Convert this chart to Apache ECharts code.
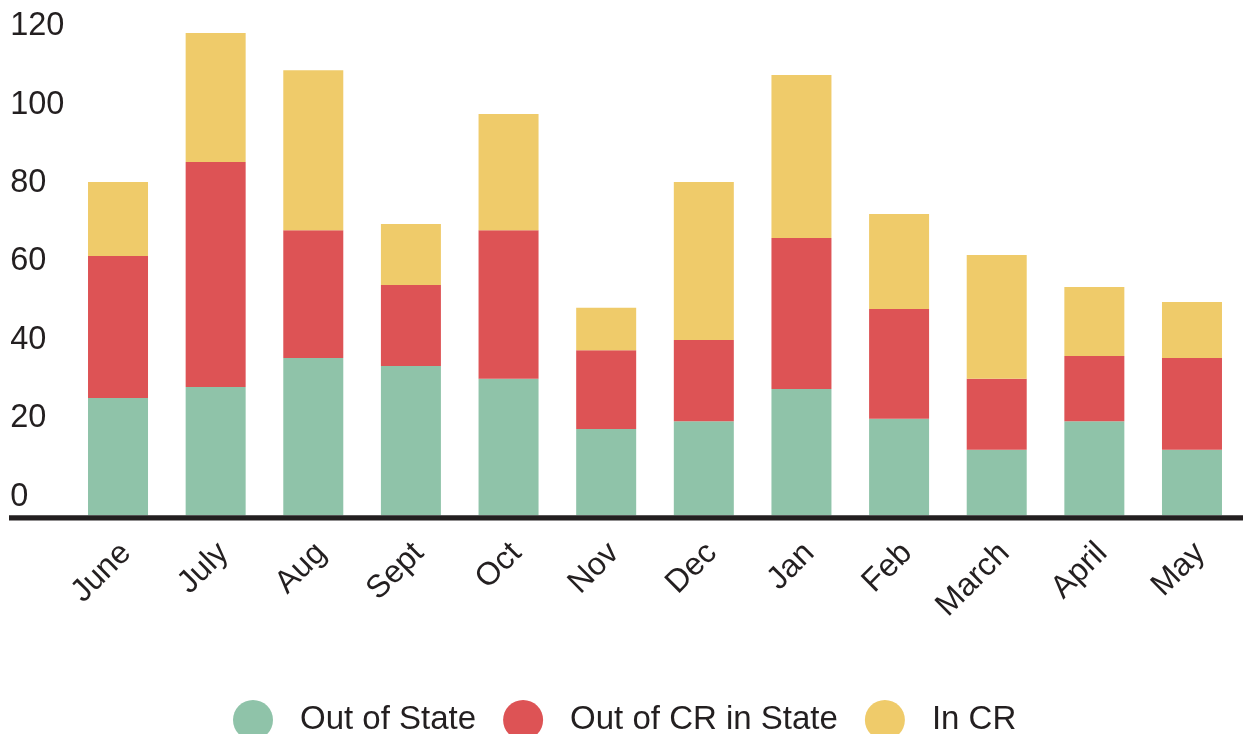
<!DOCTYPE html>
<html>
<head>
<meta charset="utf-8">
<script src="https://cdn.jsdelivr.net/npm/echarts@6/dist/echarts.min.js"></script>
<style>
  html, body { margin: 0; padding: 0; background: #ffffff; }
  #chart { width: 1243px; height: 734px; }
</style>
</head>
<body>
<div id="chart"></div>
<script>
const categories = ['June', 'July', 'Aug', 'Sept', 'Oct', 'Nov', 'Dec', 'Jan', 'Feb', 'March', 'April', 'May'];
const outOfState     = [29.9, 32.7, 40.1, 38.1, 34.8, 22.0, 24.0, 32.2, 24.6, 16.7, 24.0, 16.7];
const outOfCRInState = [36.2, 57.4, 32.6, 20.6, 37.9, 20.1, 20.7, 38.5, 28.0, 18.1, 16.6, 23.4];
const inCR           = [18.9, 32.9, 40.8, 15.6, 29.6, 10.8, 40.3, 41.6, 24.2, 31.6, 17.6, 14.3];
const seriesNames = ['Out of State', 'Out of CR in State', 'In CR'];
const yTicks = [0, 20, 40, 60, 80, 100, 120];

const FONT = "'Liberation Sans', Arial, Helvetica, sans-serif";
const TEXT = '#231f20';
const colors = ['#8fc3a9', '#dd5355', '#efcb6a'];

const chart = echarts.init(document.getElementById('chart'), null, { renderer: 'canvas' });

const option = {
  backgroundColor: '#ffffff',
  animation: false,
  color: colors,
  grid: { left: 69.2, right: 2.2, top: 25.1, bottom: 218.7, containLabel: false },
  legend: {
    data: seriesNames,
    left: 228,
    top: 695,
    icon: 'circle',
    itemWidth: 40,
    itemHeight: 40,
    itemGap: 27,
    textStyle: { fontFamily: FONT, fontSize: 33, color: TEXT, padding: [0, 0, 0, 22] }
  },
  xAxis: {
    type: 'category',
    data: categories,
    axisLine: { show: false },
    axisTick: { show: false },
    axisLabel: {
      rotate: 45,
      margin: 25,
      verticalAlign: 'top',
      lineHeight: 22.6,
      fontFamily: FONT,
      fontSize: 32,
      color: TEXT
    }
  },
  yAxis: {
    type: 'value',
    min: 0,
    max: 125,
    interval: 20,
    splitLine: { show: false },
    axisLine: { show: false },
    axisTick: { show: false },
    axisLabel: {
      align: 'left',
      margin: 59,
      verticalAlign: 'bottom',
      lineHeight: 37,
      fontFamily: FONT,
      fontSize: 32.5,
      color: TEXT,
      showMaxLabel: false,
      formatter: function (v) { return yTicks.indexOf(v) >= 0 ? String(v) : ''; }
    }
  },
  series: [
    { name: seriesNames[0], type: 'bar', stack: 'total', barWidth: 60, data: outOfState },
    { name: seriesNames[1], type: 'bar', stack: 'total', barWidth: 60, data: outOfCRInState },
    { name: seriesNames[2], type: 'bar', stack: 'total', barWidth: 60, data: inCR }
  ]
};

chart.setOption(option);

// Baseline (zero line), extended across the full width like the reference
const zeroY = chart.convertToPixel({ yAxisIndex: 0 }, 0);
chart.setOption({
  graphic: [{
    type: 'rect',
    z: 100,
    shape: { x: 9, y: zeroY, width: 1243 - 9, height: 5.2 },
    style: { fill: TEXT }
  }]
});
</script>
</body>
</html>
